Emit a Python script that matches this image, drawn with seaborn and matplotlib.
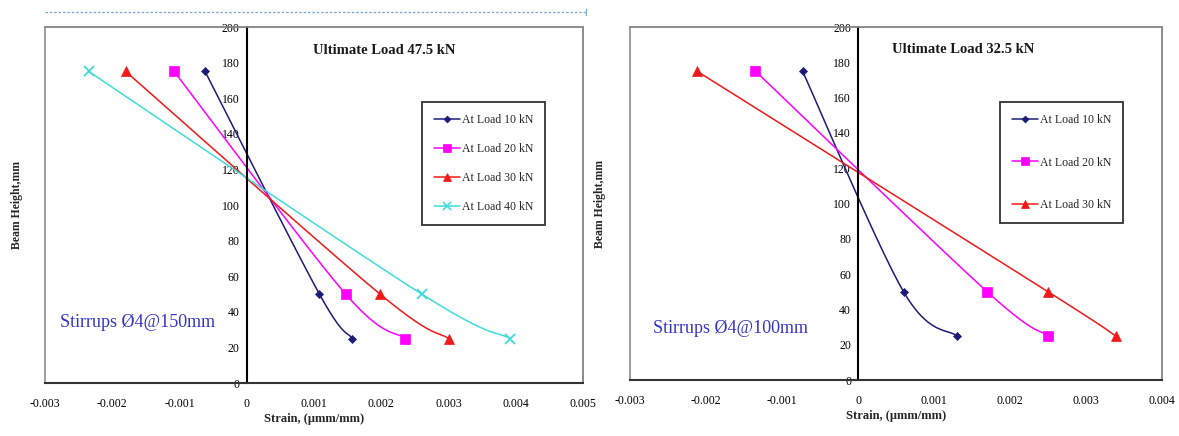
import numpy as np
import matplotlib
matplotlib.use("Agg")
import matplotlib.pyplot as plt
import seaborn as sns
from matplotlib.lines import Line2D
from matplotlib.patches import Rectangle

# ---------------- data ----------------
heights = [175, 50, 25]

left_labels = ["At Load 10 kN", "At Load 20 kN", "At Load 30 kN", "At Load 40 kN"]
left_10 = [-0.00062, 0.00108, 0.00157]
left_20 = [-0.00108, 0.00147, 0.00236]
left_30 = [-0.00180, 0.00198, 0.00300]
left_40 = [-0.00235, 0.00260, 0.00392]

right_labels = ["At Load 10 kN", "At Load 20 kN", "At Load 30 kN"]
right_10 = [-0.00073, 0.00060, 0.00130]
right_20 = [-0.00135, 0.00170, 0.00250]
right_30 = [-0.00212, 0.00250, 0.00339]

left_xticks = [-0.003, -0.002, -0.001, 0, 0.001, 0.002, 0.003, 0.004, 0.005]
left_xticklabels = ["-0.003", "-0.002", "-0.001", "0", "0.001", "0.002", "0.003", "0.004", "0.005"]
right_xticks = [-0.003, -0.002, -0.001, 0, 0.001, 0.002, 0.003, 0.004]
right_xticklabels = ["-0.003", "-0.002", "-0.001", "0", "0.001", "0.002", "0.003", "0.004"]
yticks = [0, 20, 40, 60, 80, 100, 120, 140, 160, 180, 200]

left_title = "Ultimate Load 47.5 kN"
right_title = "Ultimate Load 32.5 kN"
left_note = "Stirrups \u00d84@150mm"
right_note = "Stirrups \u00d84@100mm"
xlabel = "Strain, (\u03bcmm/mm)"
ylabel = "Beam Height,mm"

# ---------------- style ----------------
sns.set_style("white")
plt.rcParams["font.family"] = ["Liberation Serif", "DejaVu Serif"]

colors = ["#1c1c78", "#ff00ff", "#f01818", "#3fdcdc"]
markers = ["D", "s", "^", "x"]
msizes = [4.5, 7, 7, 7]


def smooth(xs, ys, n=40):
    """Excel-like smoothed line (Catmull-Rom Bezier) through the points."""
    P = np.column_stack([xs, ys]).astype(float)
    m = len(P)
    out = []
    for i in range(m - 1):
        p0 = P[i - 1] if i > 0 else P[i]
        p1 = P[i]
        p2 = P[i + 1]
        p3 = P[i + 2] if i + 2 < m else P[i + 1]
        c1 = p1 + (p2 - p0) / 6.0
        c2 = p2 - (p3 - p1) / 6.0
        t = np.linspace(0, 1, n)[:, None]
        seg = ((1 - t) ** 3) * p1 + 3 * ((1 - t) ** 2) * t * c1 + 3 * (1 - t) * t ** 2 * c2 + t ** 3 * p2
        out.append(seg if i == 0 else seg[1:])
    S = np.vstack(out)
    return S[:, 0], S[:, 1]


fig = plt.figure(figsize=(11.79, 4.36), dpi=100)
fig.patch.set_facecolor("white")

ax1 = fig.add_axes([45 / 1179, 1 - 383 / 436, 538 / 1179, 356 / 436])
ax2 = fig.add_axes([630 / 1179, 1 - 380 / 436, 532 / 1179, 353 / 436])


def draw(ax, series, labels, xlim, xticks, xticklabels, title, title_x, note, note_x, note_y,
         legend_anchor, labelspacing, ylabel_x):
    handles = []
    for i, (xs, lab) in enumerate(zip(series, labels)):
        sx, sy = smooth(xs, heights)
        sns.lineplot(x=sx, y=sy, ax=ax, color=colors[i], lw=1.1, sort=False,
                     estimator=None, legend=False)
        ax.plot(xs, heights, linestyle="none", marker=markers[i], color=colors[i],
                markersize=msizes[i], markeredgewidth=1.3 if markers[i] == "x" else 0.5)
        handles.append(Line2D([0], [0], color=colors[i], lw=1.1, marker=markers[i],
                              markersize=msizes[i] - 1,
                              markeredgewidth=1.2 if markers[i] == "x" else 0.5,
                              label=lab))
    ax.set_xlim(*xlim)
    ax.set_ylim(0, 200)
    ax.set_xticks(xticks)
    ax.set_xticklabels(xticklabels)
    ax.set_yticks(yticks)
    ax.set_yticklabels([str(v) for v in yticks])

    for s in ["top", "right"]:
        ax.spines[s].set_color("#8c8c8c")
        ax.spines[s].set_linewidth(1.2)
    ax.spines["left"].set_position(("data", 0))
    ax.spines["left"].set_color("black")
    ax.spines["left"].set_linewidth(1.5)
    ax.spines["bottom"].set_color("#333333")
    ax.spines["bottom"].set_linewidth(1.5)
    ax.add_patch(Rectangle((0, 0), 1, 1, transform=ax.transAxes, fill=False,
                           edgecolor="#8c8c8c", lw=1.2, zorder=0, clip_on=False))

    ax.tick_params(axis="both", direction="out", length=3, width=1, colors="black",
                   labelsize=8.5, pad=2)
    ax.tick_params(axis="x", pad=8)
    ax.set_xlabel(xlabel, fontsize=9, fontweight="bold")
    ax.set_ylabel(ylabel, fontsize=8.5, fontweight="bold")
    ax.xaxis.set_label_coords(0.5, -0.085)
    ax.yaxis.set_label_coords(ylabel_x, 0.5)

    ax.text(title_x, 187, title, fontsize=10.5, fontweight="bold", ha="left", va="center",
            color="#1a1a1a")
    ax.text(note_x, note_y, note, fontsize=13, color="#3434c8", ha="left", va="center")

    leg = ax.legend(handles=handles, loc="upper left", bbox_to_anchor=legend_anchor,
                    fontsize=8.5, frameon=True, fancybox=False, edgecolor="black",
                    labelspacing=labelspacing, handlelength=2.2, handletextpad=0.2,
                    borderpad=1.0, borderaxespad=0)
    leg.get_frame().set_linewidth(1.3)


draw(ax1, [left_10, left_20, left_30, left_40], left_labels, (-0.003, 0.005),
     left_xticks, left_xticklabels, left_title, 0.00098, left_note, -0.00278, 34,
     ((422 - 45) / 538, (383 - 102) / 356), 1.45, -0.041)
draw(ax2, [right_10, right_20, right_30], right_labels, (-0.003, 0.004),
     right_xticks, right_xticklabels, right_title, 0.00045, right_note, -0.0027, 29,
     ((1000 - 630) / 532, (380 - 102) / 353), 2.6, -0.045)

# dashed border line at top of left panel (text box edge)
fig.add_artist(Line2D([45 / 1179, 586 / 1179], [1 - 12 / 436, 1 - 12 / 436],
                      transform=fig.transFigure, color="#7aa6d8", lw=0.9,
                      linestyle=(0, (2, 1.5))))
fig.add_artist(Line2D([586 / 1179, 586 / 1179], [1 - 9 / 436, 1 - 15 / 436],
                      transform=fig.transFigure, color="#7aa6d8", lw=0.9))

fig.savefig("out.png", dpi=100, facecolor="white")
